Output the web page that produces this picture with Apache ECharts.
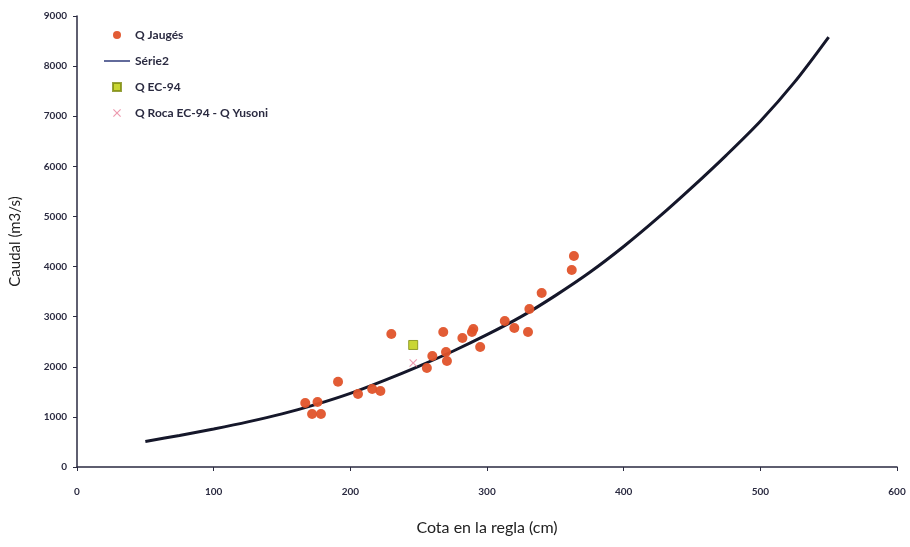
<!DOCTYPE html>
<html>
<head>
<meta charset="utf-8">
<script src="https://cdn.jsdelivr.net/npm/echarts@6/dist/echarts.min.js"></script>
<style>html,body{margin:0;padding:0;background:#fff}#c{width:910px;height:547px}</style>
</head>
<body>
<div id="c"></div>
<script>
// Q Jaugés: [cota (cm), caudal (m3/s)]
var jaugesH = [167, 172, 176, 178.5, 191, 205.6, 216, 222, 230, 256, 260, 268, 270, 270.7, 282, 289, 290, 295, 313, 320, 330, 331, 340, 362, 363.6];
var jaugesQ = [1277, 1058, 1297, 1058, 1700, 1457, 1557, 1517, 2655, 1976, 2216, 2695, 2296, 2116, 2575, 2695, 2755, 2395, 2914, 2774, 2695, 3154, 3473, 3932, 4212];
// Série2 (rating curve)
var serie2H = [50, 75, 100, 125, 150, 175, 200, 225, 250, 275, 300, 325, 350, 375, 400, 425, 450, 475, 500, 525, 550];
var serie2Q = [510, 630, 760, 900, 1060, 1250, 1470, 1730, 2010, 2310, 2640, 3000, 3420, 3880, 4400, 4970, 5580, 6220, 6900, 7680, 8580];
// Q EC-94
var ec94H = [246];
var ec94Q = [2435];
// Q Roca EC-94 - Q Yusoni
var rocaH = [246];
var rocaQ = [2076];
// axis ticks
var xTicks = [0, 100, 200, 300, 400, 500, 600];
var yTicks = [0, 1000, 2000, 3000, 4000, 5000, 6000, 7000, 8000, 9000];

function zip(a, b) { return a.map(function (v, i) { return [v, b[i]]; }); }

var names = ['Q Jaugés', 'Série2', 'Q EC-94', 'Q Roca EC-94 - Q Yusoni'];
var xIcon = 'path://M0,1L1,0L5,4L9,0L10,1L6,5L10,9L9,10L5,6L1,10L0,9L4,5Z';
var sqIcon = 'path://M0,0L10,0L10,10L0,10Z';
var lineIcon = 'path://M0,0L26,0L26,1.6L0,1.6Z';
var labelStyle = { color: '#2a2a40', fontFamily: 'Lato', fontWeight: 'bold', fontSize: 10 };

var chart = echarts.init(document.getElementById('c'), null, { renderer: 'canvas' });
chart.setOption({
  animation: false,
  backgroundColor: '#ffffff',
  grid: { left: 77, right: 13, top: 16, bottom: 80, containLabel: false },
  legend: {
    orient: 'vertical', left: 99, top: 24,
    itemWidth: 26, itemHeight: 8, itemGap: 14,
    textStyle: { color: '#2a2a40', fontFamily: 'Lato', fontWeight: 'bold', fontSize: 12 },
    data: [
      { name: names[0], icon: 'circle' },
      { name: names[1], icon: lineIcon },
      { name: names[2], icon: sqIcon },
      { name: names[3], icon: xIcon }
    ]
  },
  xAxis: {
    type: 'value', min: xTicks[0], max: xTicks[xTicks.length - 1], interval: 100,
    name: 'Cota en la regla (cm)', nameLocation: 'middle', nameGap: 53,
    nameTextStyle: { color: '#222', fontFamily: 'Lato', fontSize: 16 },
    axisLine: { lineStyle: { color: '#2a2a40', width: 1.5 } },
    axisTick: { show: true, length: 4, lineStyle: { color: '#2a2a40' } },
    axisLabel: Object.assign({ margin: 20 }, labelStyle),
    splitLine: { show: false }
  },
  yAxis: {
    type: 'value', min: yTicks[0], max: yTicks[yTicks.length - 1], interval: 1000,
    name: 'Caudal (m3/s)', nameLocation: 'middle', nameGap: 54, nameRotate: 90,
    nameTextStyle: { color: '#222', fontFamily: 'Lato', fontSize: 15 },
    axisLine: { show: true, lineStyle: { color: '#2a2a40', width: 1.5 } },
    axisTick: { show: true, length: 4, lineStyle: { color: '#2a2a40' } },
    axisLabel: Object.assign({ margin: 10, formatter: function (v) { return String(v); } }, labelStyle),
    splitLine: { show: false }
  },
  series: [
    {
      name: names[1], type: 'line', data: zip(serie2H, serie2Q), smooth: 0.3,
      symbol: 'none', z: 2,
      lineStyle: { color: '#15172a', width: 3 },
      itemStyle: { color: '#3a4682' }
    },
    {
      name: names[0], type: 'scatter', data: zip(jaugesH, jaugesQ), symbol: 'circle', symbolSize: 10, z: 3,
      itemStyle: { color: '#e0532a', opacity: 0.95 }
    },
    {
      name: names[2], type: 'scatter', data: zip(ec94H, ec94Q), symbol: sqIcon, symbolSize: 9, z: 4,
      itemStyle: { color: '#bccc00', borderColor: '#7d8a10', borderWidth: 1 }
    },
    {
      name: names[3], type: 'scatter', data: zip(rocaH, rocaQ), symbol: xIcon, symbolSize: 8, z: 4,
      itemStyle: { color: '#e8809a' }
    }
  ]
});
</script>
</body>
</html>
